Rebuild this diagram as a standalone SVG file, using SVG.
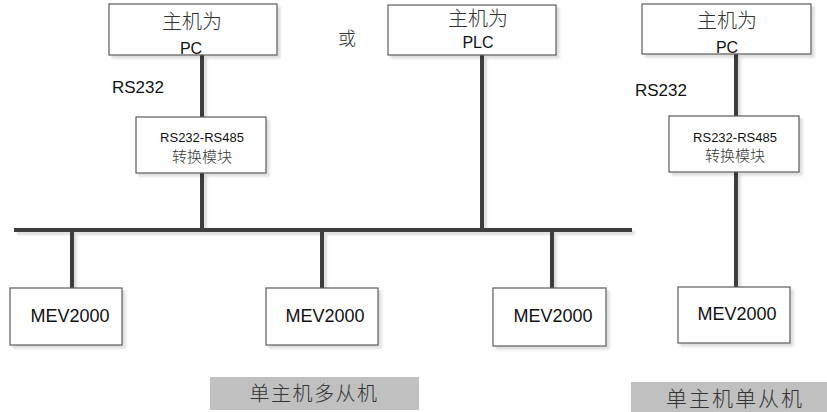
<svg xmlns="http://www.w3.org/2000/svg" width="827" height="412" viewBox="0 0 827 412">
<defs>
<filter id="sh" x="-10%" y="-10%" width="130%" height="130%">
<feDropShadow dx="3" dy="3" stdDeviation="1" flood-color="#000" flood-opacity="0.13"/>
</filter>
<filter id="lsh" filterUnits="userSpaceOnUse" x="0" y="0" width="827" height="412">
<feDropShadow dx="3" dy="3" stdDeviation="1" flood-color="#000" flood-opacity="0.13"/>
</filter>
<style>
.box{fill:#fff;stroke:#5a5a5a;stroke-width:1.2;filter:url(#sh)}
.ln{stroke:#3c3c3c;stroke-width:4;fill:none}
.cn{font-family:"Noto Sans CJK SC","Noto Sans CJK JP",sans-serif;fill:#333;text-anchor:middle;font-weight:300}
.lt{font-family:"Liberation Sans","Open Sans",sans-serif;fill:#111;text-anchor:middle}
.tag{fill:#c0c0c0}
</style>
</defs>
<rect width="827" height="412" fill="#fff"/>
<g id="connectors" filter="url(#lsh)">
<line class="ln" x1="202" y1="55" x2="202" y2="117"/>
<line class="ln" x1="202" y1="173" x2="202" y2="230"/>
<line class="ln" x1="14" y1="230" x2="632" y2="230"/>
<line class="ln" x1="482" y1="55" x2="482" y2="230"/>
<line class="ln" x1="72" y1="230" x2="72" y2="288"/>
<line class="ln" x1="322" y1="230" x2="322" y2="288"/>
<line class="ln" x1="552" y1="230" x2="552" y2="288"/>
<line class="ln" x1="736" y1="54" x2="736" y2="116"/>
<line class="ln" x1="736" y1="172" x2="736" y2="287"/>
</g>
<g id="pc1">
<rect class="box" x="109" y="4" width="168" height="51"/>
<text class="cn" x="192" y="29" font-size="20">主机为</text>
<text class="lt" x="191" y="54" font-size="16">PC</text>
</g>
<g id="plc">
<rect class="box" x="388" y="5" width="168" height="50"/>
<text class="cn" x="478" y="26" font-size="20">主机为</text>
<text class="lt" x="478" y="48" font-size="16">PLC</text>
</g>
<g id="pc2">
<rect class="box" x="642" y="4" width="169" height="50"/>
<text class="cn" x="727" y="28" font-size="20">主机为</text>
<text class="lt" x="727" y="53" font-size="16">PC</text>
</g>
<g id="or">
<text class="cn" x="347" y="45" font-size="18">或</text>
</g>
<g id="rs232-label-1">
<text class="lt" x="138" y="93" font-size="17">RS232</text>
</g>
<g id="rs232-label-2">
<text class="lt" x="661" y="96" font-size="17">RS232</text>
</g>
<g id="conv1">
<rect class="box" x="136" y="117" width="130" height="56"/>
<text class="lt" x="202" y="142" font-size="13">RS232-RS485</text>
<text class="cn" x="202" y="162" font-size="15">转换模块</text>
</g>
<g id="conv2">
<rect class="box" x="669" y="116" width="130" height="56"/>
<text class="lt" x="735" y="142" font-size="13">RS232-RS485</text>
<text class="cn" x="735" y="161" font-size="15">转换模块</text>
</g>
<g id="mev1">
<rect class="box" x="10" y="288" width="112" height="57"/>
<text class="lt" x="70" y="322" font-size="18">MEV2000</text>
</g>
<g id="mev2">
<rect class="box" x="266" y="288" width="112" height="57"/>
<text class="lt" x="325" y="322" font-size="18">MEV2000</text>
</g>
<g id="mev3">
<rect class="box" x="493" y="288" width="113" height="58"/>
<text class="lt" x="553" y="322" font-size="18">MEV2000</text>
</g>
<g id="mev4">
<rect class="box" x="678" y="287" width="112" height="56"/>
<text class="lt" x="737" y="320" font-size="18">MEV2000</text>
</g>
<g id="label-multi">
<rect class="tag" x="210" y="377" width="209" height="33"/>
<text class="cn" x="314" y="401" font-size="20" letter-spacing="1.5">单主机多从机</text>
</g>
<g id="label-single">
<rect class="tag" x="631" y="382" width="196" height="30"/>
<text class="cn" x="735" y="406" font-size="21" letter-spacing="2">单主机单从机</text>
</g>
</svg>
